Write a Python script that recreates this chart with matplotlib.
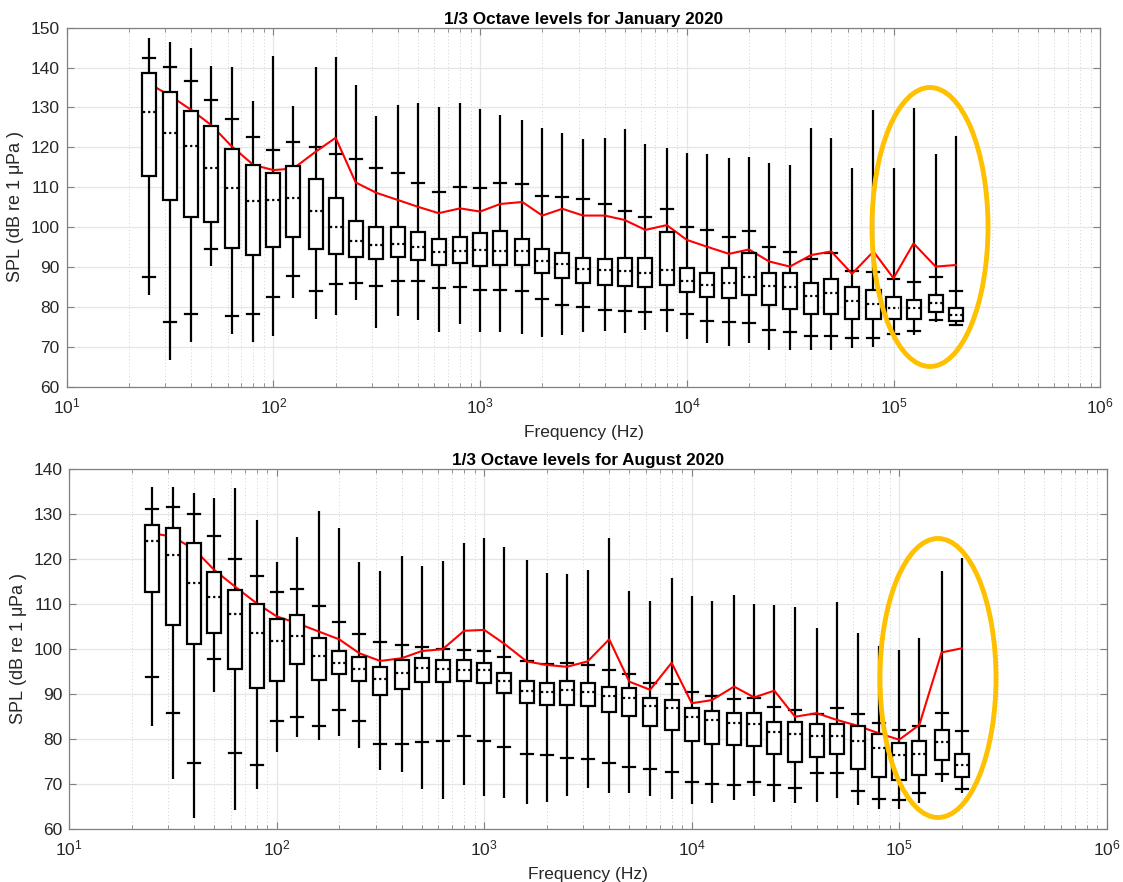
import numpy as np
import matplotlib
matplotlib.use("Agg")
import matplotlib.pyplot as plt
from matplotlib.patches import Rectangle, Ellipse

plt.rcParams['font.family'] = ['Liberation Sans', 'DejaVu Sans']
plt.rcParams['mathtext.default'] = 'regular'

# 1/3 octave band centre frequencies (Hz)
freqs = [25, 31.5, 40, 50, 63, 80, 100, 125, 160, 200, 250, 315, 400, 500, 630,
         800, 1000, 1250, 1600, 2000, 2500, 3150, 4000, 5000, 6300, 8000,
         10e3, 12.5e3, 16e3, 20e3, 25e3, 31.5e3, 40e3, 50e3, 63e3, 80e3,
         100e3, 125e3, 160e3, 200e3]

# ---- January 2020 ----
jan_max = [147.5, 146.5, 145.0, 140.4, 140.1, 131.5, 142.9, 130.4, 140.1, 142.7,
           135.6, 127.9, 130.6, 131.2, 130.2, 131.2, 129.5, 128.1, 126.9, 124.8,
           123.7, 122.0, 122.4, 124.7, 120.8, 119.8, 118.7, 118.3, 117.3, 117.7,
           116.2, 115.6, 124.8, 122.3, 114.7, 129.4, 114.7, 129.8, 118.3, 122.8]
jan_hi = [142.5, 140.2, 136.7, 131.9, 127.1, 122.6, 119.3, 121.3, 120.1, 118.3,
          117.1, 114.7, 113.5, 111.0, 108.9, 110.0, 109.7, 111.0, 110.7, 107.8,
          107.6, 107.0, 105.7, 104.1, 102.6, 104.5, 100.1, 99.3, 97.4, 99.1,
          94.9, 93.7, 91.9, 93.4, 88.9, 88.8, 87.1, 86.2, 87.6, 84.1]
jan_q3 = [138.7, 134.0, 129.2, 125.4, 119.6, 115.5, 113.5, 115.2, 112.1, 107.4,
          101.6, 100.0, 100.0, 98.7, 97.1, 97.4, 98.6, 99.1, 97.1, 94.6,
          93.6, 92.3, 92.1, 92.3, 92.2, 98.8, 89.7, 88.6, 89.7, 93.4,
          88.6, 88.4, 86.1, 86.9, 85.0, 84.3, 82.6, 81.7, 83.0, 79.8]
jan_med = [128.9, 123.5, 120.3, 114.8, 109.8, 106.5, 106.8, 107.3, 104.0, 100.1,
           96.6, 95.4, 95.7, 95.1, 93.7, 93.9, 94.3, 94.1, 93.9, 91.6,
           90.8, 89.4, 89.3, 89.1, 88.4, 89.2, 86.6, 85.5, 85.9, 87.6,
           85.3, 84.9, 82.7, 83.4, 81.4, 80.8, 79.8, 79.7, 80.9, 78.0]
jan_q1 = [112.9, 106.8, 102.5, 101.3, 94.7, 93.0, 94.9, 97.5, 94.5, 93.3,
          92.6, 92.1, 92.4, 91.8, 90.5, 90.9, 90.3, 90.5, 90.4, 88.4,
          87.2, 85.9, 85.5, 85.3, 85.1, 85.6, 83.7, 82.6, 82.3, 83.0,
          80.5, 79.4, 78.2, 78.2, 76.9, 76.9, 76.9, 77.0, 78.8, 76.5]
jan_lo = [87.6, 76.3, 78.1, 94.6, 77.6, 78.1, 82.6, 87.8, 84.1, 85.7,
          86.1, 85.3, 86.5, 86.6, 84.7, 85.1, 84.3, 84.3, 84.0, 82.0,
          80.4, 79.9, 79.2, 79.0, 78.8, 79.2, 78.2, 76.5, 76.1, 75.9,
          74.2, 73.6, 72.7, 72.7, 72.3, 72.3, 73.3, 74.0, 76.6, 75.5]
jan_min = [83.0, 66.7, 71.3, 90.3, 73.1, 71.1, 72.6, 82.3, 77.0, 78.0,
           81.7, 74.6, 77.7, 76.6, 73.8, 75.7, 73.8, 73.6, 73.1, 72.4,
           73.0, 73.6, 74.0, 73.4, 74.2, 73.6, 71.9, 70.9, 70.3, 70.9,
           69.2, 69.2, 69.2, 69.2, 69.6, 70.0, 71.7, 73.0, 76.1, 75.2]
jan_mean = [136.0, 133.0, 129.4, 125.6, 120.2, 115.6, 114.3, 114.7, 118.9, 122.4,
            111.2, 108.6, 106.8, 105.1, 103.5, 104.7, 103.9, 105.8, 106.3, 102.9,
            104.6, 102.9, 102.9, 101.8, 99.3, 100.5, 96.8, 95.1, 93.3, 94.4,
            91.4, 90.1, 93.0, 93.9, 88.3, 93.9, 87.2, 95.9, 90.1, 90.5]

# ---- August 2020 ----
aug_max = [136.1, 136.1, 134.8, 133.7, 135.9, 128.7, 119.3, 124.9, 130.8, 126.9,
           119.3, 117.3, 120.7, 118.4, 119.7, 123.7, 124.8, 122.8, 119.9, 116.9,
           116.7, 117.5, 124.7, 113.0, 110.7, 115.8, 111.9, 110.8, 112.1, 110.1,
           109.9, 109.3, 104.7, 110.4, 103.6, 100.7, 99.9, 102.6, 117.3, 120.2]
aug_hi = [131.2, 131.5, 130.0, 125.2, 120.1, 116.3, 112.7, 113.4, 109.5, 106.0,
          103.3, 101.6, 101.0, 100.6, 100.1, 99.9, 99.7, 98.2, 97.3, 96.7,
          96.9, 96.5, 95.4, 94.4, 92.4, 92.2, 90.4, 89.6, 88.9, 89.1,
          87.1, 86.5, 85.6, 86.9, 85.6, 83.7, 82.0, 83.0, 85.9, 81.9]
aug_q3 = [127.5, 126.9, 123.6, 117.2, 113.2, 110.1, 106.7, 107.6, 102.4, 99.7,
          98.3, 96.1, 97.5, 98.1, 97.6, 97.5, 96.9, 94.8, 93.0, 92.6,
          93.0, 92.4, 91.7, 91.3, 89.1, 88.7, 86.9, 86.3, 85.8, 85.9,
          83.9, 83.9, 83.3, 83.4, 83.0, 81.2, 79.1, 79.5, 82.1, 76.7]
aug_med = [124.1, 120.9, 114.7, 111.7, 107.9, 103.7, 101.9, 103.0, 98.5, 96.9,
           95.6, 93.4, 94.8, 95.9, 95.6, 95.4, 95.3, 93.0, 90.8, 90.4,
           91.0, 90.4, 89.6, 89.1, 87.3, 86.9, 84.9, 84.3, 83.7, 83.4,
           81.5, 81.2, 80.7, 80.7, 79.7, 78.0, 76.5, 76.7, 79.3, 74.3]
aug_q1 = [112.8, 105.3, 101.2, 103.7, 95.6, 91.3, 93.0, 96.7, 93.2, 94.5,
          93.0, 89.9, 91.2, 92.7, 92.8, 93.0, 92.4, 90.2, 88.0, 87.6,
          87.5, 87.3, 86.1, 85.2, 83.0, 82.1, 79.5, 79.0, 78.7, 78.5,
          76.7, 75.0, 76.0, 76.7, 73.3, 71.7, 71.0, 72.1, 75.4, 71.7]
aug_lo = [93.9, 85.8, 74.8, 97.9, 76.9, 74.3, 84.1, 85.0, 83.0, 86.4,
          84.1, 78.9, 78.9, 79.3, 79.5, 80.8, 79.7, 78.2, 76.7, 76.5,
          75.8, 75.6, 74.7, 73.9, 73.3, 72.7, 70.6, 70.0, 69.9, 70.4,
          69.9, 69.1, 72.6, 72.6, 68.4, 66.7, 66.5, 68.1, 72.2, 68.9]
aug_min = [83.0, 71.2, 62.4, 90.6, 64.3, 68.9, 77.1, 80.4, 79.9, 80.7,
           78.0, 73.2, 72.7, 68.9, 66.7, 69.9, 67.3, 66.9, 65.6, 66.1,
           67.5, 69.1, 68.1, 68.0, 67.3, 66.7, 65.6, 65.9, 66.5, 67.4,
           66.1, 65.8, 66.1, 66.9, 65.4, 64.4, 64.4, 65.8, 70.4, 68.1]
aug_mean = [125.8, 125.0, 122.2, 117.6, 113.9, 110.2, 107.3, 105.8, 103.9, 102.2,
            99.1, 97.4, 98.0, 99.6, 100.0, 104.1, 104.3, 101.2, 97.3, 96.5,
            96.1, 97.3, 102.2, 92.8, 91.0, 97.0, 88.0, 88.7, 91.7, 89.3,
            90.8, 85.0, 85.8, 84.3, 83.0, 81.3, 79.9, 83.2, 99.3, 100.2]

GRID = '#e6e6e6'
AX = '#808080'
TXT = '#262626'


def draw_panel(ax, mx, hi, q3, med, q1, lo, mn, mean, title, ymax):
    f = np.array(freqs)
    half_box = 10 ** 0.034
    half_bar = 10 ** 0.029
    # red mean line (sits behind the boxes)
    ax.plot(f, mean, color='red', lw=1.5, zorder=3)
    for i, fc in enumerate(f):
        ax.plot([fc, fc], [mn[i], mx[i]], color='black', lw=1.6, zorder=2,
                solid_capstyle='butt')
        for v in (hi[i], lo[i]):
            ax.plot([fc / half_bar, fc * half_bar], [v, v], color='black',
                    lw=1.6, zorder=2)
        ax.add_patch(Rectangle((fc / half_box, q1[i]), fc * half_box - fc / half_box,
                               q3[i] - q1[i], facecolor='white',
                               edgecolor='black', lw=1.6, zorder=4))
        ax.plot([fc / half_bar, fc * half_bar], [med[i], med[i]], color='black',
                lw=1.6, ls=(0, (1, 1.3)), zorder=5)

    ax.set_xscale('log')
    ax.set_xlim(10, 1e6)
    ax.set_ylim(60, ymax)
    ax.set_yticks(np.arange(60, ymax + 1, 10))
    ax.set_xticks([1e1, 1e2, 1e3, 1e4, 1e5, 1e6])
    ax.grid(True, which='major', color=GRID, lw=0.9, zorder=0)
    ax.grid(True, which='minor', axis='x', color='#d2d2d2', lw=0.7,
            ls=(0, (1, 2.5)), zorder=0)
    ax.set_axisbelow(True)
    ax.tick_params(which='both', direction='in', top=True, right=True,
                   colors=AX, labelcolor=TXT, labelsize=12.5)
    ax.tick_params(which='major', length=5)
    ax.tick_params(which='minor', length=3)
    ax.tick_params(axis='x', which='major', pad=7)
    ax.tick_params(axis='y', which='major', pad=5)
    for s in ax.spines.values():
        s.set_color(AX)
        s.set_linewidth(0.9)
    ax.set_title(title, fontsize=12.3, fontweight='bold', color='black', pad=3)
    ax.set_xlabel('Frequency (Hz)', fontsize=12.5, color=TXT, labelpad=6)
    ax.set_ylabel(r'SPL (dB re 1 $\mu$Pa )', fontsize=13, color=TXT, labelpad=3)


fig = plt.figure(figsize=(11.23, 8.82), dpi=100)
ax1 = fig.add_axes([0.0594, 0.5616, 0.9203, 0.4070])
ax2 = fig.add_axes([0.0617, 0.0598, 0.9238, 0.4082])

draw_panel(ax1, jan_max, jan_hi, jan_q3, jan_med, jan_q1, jan_lo, jan_min,
           jan_mean, '1/3 Octave levels for January 2020', 150)
draw_panel(ax2, aug_max, aug_hi, aug_q3, aug_med, aug_q1, aug_lo, aug_min,
           aug_mean, '1/3 Octave levels for August 2020', 140)

# highlight rings around the high-frequency bands (figure pixel positions)
W, H = 1123, 882
for cx, cy in [(930, 227), (938, 678)]:
    fig.add_artist(Ellipse((cx / W, 1 - cy / H), 116 / W, 279 / H,
                           transform=fig.transFigure, fill=False,
                           edgecolor='#FFC000', lw=3.5, zorder=10))

fig.savefig('out.png', dpi=100)
